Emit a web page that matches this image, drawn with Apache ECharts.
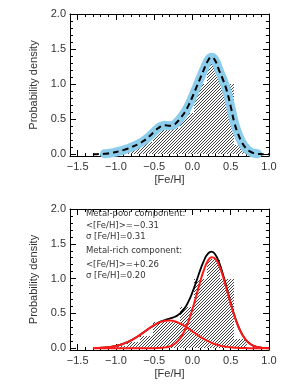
<!DOCTYPE html>
<html>
<head>
<meta charset="utf-8">
<script src="https://cdn.jsdelivr.net/npm/echarts@6/dist/echarts.min.js"></script>
<style>html,body{margin:0;padding:0;background:#fff}#c{width:285px;height:388px}</style>
</head>
<body>
<div id="c"></div>
<script>
// ---- data ----
const xGrid = [-1.3,-1.25,-1.2,-1.15,-1.1,-1.05,-1.0,-0.95,-0.9,-0.85,-0.8,-0.75,-0.7,-0.65,-0.6,-0.55,-0.5,-0.45,-0.4,-0.35,-0.3,-0.25,-0.2,-0.15,-0.1,-0.05,0.0,0.05,0.1,0.15,0.2,0.25,0.3,0.35,0.4,0.45,0.5,0.55,0.6,0.65,0.7,0.75,0.8,0.85,0.9,0.95,1.0];
const kde = [0.0,0.001,0.003,0.006,0.012,0.02,0.032,0.045,0.06,0.078,0.1,0.123,0.15,0.182,0.22,0.268,0.32,0.37,0.403,0.412,0.405,0.415,0.46,0.525,0.6,0.7,0.82,0.95,1.08,1.21,1.33,1.385,1.33,1.19,1.06,0.9,0.68,0.44,0.28,0.16,0.085,0.04,0.016,0.006,0.002,0.0,0.0];
const bandRange = [-1.15, 0.85];
const metalPoor = [0.0024,0.0040,0.0065,0.0102,0.0156,0.0232,0.0336,0.0475,0.0654,0.0877,0.1147,0.1461,0.1813,0.2192,0.2582,0.2964,0.3315,0.3612,0.3835,0.3967,0.3998,0.3926,0.3756,0.3501,0.3180,0.2814,0.2426,0.2038,0.1668,0.1330,0.1034,0.0782,0.0577,0.0415,0.0290,0.0198,0.0132,0.0085,0.0054,0.0033,0.0020,0.0012,0.0007,0.0004,0.0002,0.0001,0.0];
const metalRich = [0,0,0,0,0,0,0,0,0,0,0,0,0,0,0.0001,0.0003,0.001,0.0024,0.0057,0.0125,0.026,0.0507,0.093,0.1602,0.2593,0.3941,0.5628,0.7548,0.9512,1.1261,1.2524,1.3084,1.2841,1.1838,1.0253,0.8342,0.6377,0.4579,0.3088,0.1957,0.1165,0.0651,0.0342,0.0169,0.0078,0.0034,0.0014];
const totalFit = [0.0024,0.0040,0.0065,0.0102,0.0156,0.0232,0.0336,0.0475,0.0654,0.0877,0.1147,0.1461,0.1813,0.2192,0.2583,0.2967,0.3325,0.3636,0.3892,0.4092,0.4258,0.4433,0.4686,0.5103,0.5773,0.6755,0.8054,0.9586,1.1180,1.2591,1.3558,1.3866,1.3418,1.2253,1.0543,0.8540,0.6509,0.4664,0.3142,0.1990,0.1185,0.0663,0.0349,0.0173,0.0080,0.0035,0.0014];
const binLeft  = [-1.21,-1.035,-0.86,-0.685,-0.51,-0.335,-0.16,0.015,0.19,0.365,0.54];
const binRight = [-1.035,-0.86,-0.685,-0.51,-0.335,-0.16,0.015,0.19,0.365,0.54,0.715];
const binHeight = [0.01,0.03,0.09,0.18,0.37,0.37,0.59,1.0,1.28,1.0,0.13];
const xMajor = [-1.5,-1.0,-0.5,0.0,0.5,1.0];
const xMinor = [-1.6,-1.4,-1.3,-1.2,-1.1,-0.9,-0.8,-0.7,-0.6,-0.4,-0.3,-0.2,-0.1,0.1,0.2,0.3,0.4,0.6,0.7,0.8,0.9];
const yMajor = [0.0,0.5,1.0,1.5,2.0];
const yMinor = [0.1,0.2,0.3,0.4,0.6,0.7,0.8,0.9,1.1,1.2,1.3,1.4,1.6,1.7,1.8,1.9];
const annot = ['Metal-poor component:','<[Fe/H]>=\u22120.31','\u03c3 [Fe/H]=0.31','Metal-rich component:','<[Fe/H]>=+0.26','\u03c3 [Fe/H]=0.20'];

// ---- hatch pattern (crisp pixel diagonal, 3px pitch) ----
const pc = document.createElement('canvas');
pc.width = 3; pc.height = 3;
const g = pc.getContext('2d');
g.fillStyle = '#fff'; g.fillRect(0,0,3,3);
g.fillStyle = '#444';
for (let i = 0; i < 3; i++) g.fillRect(i, 2 - i, 1, 1);
const hatch = {type:'pattern', image: pc, repeat:'repeat'};

const TXT = '#333';
const FONT = '"Liberation Sans", Arial, sans-serif';
const fmt = v => (Math.abs(v) < 1e-9 ? 0 : v).toFixed(1).replace('-', '\u2212');

function xAxes(gi) {
  const base = {gridIndex: gi, type:'value', min:-1.6, max:1.0, splitLine:{show:false}};
  return [
    Object.assign({}, base, {position:'bottom', name:'[Fe/H]', nameLocation:'middle', nameGap:18,
      nameTextStyle:{color:TXT, fontSize:11, fontFamily:FONT},
      axisLine:{show:true, onZero:false, lineStyle:{color:'#000', width:1}},
      axisTick:{show:true, inside:true, length:6, customValues:xMajor, lineStyle:{color:'#000'}},
      axisLabel:{show:true, customValues:xMajor, formatter:fmt, color:TXT, fontSize:11, fontFamily:FONT, margin:5}}),
    Object.assign({}, base, {position:'bottom', axisLine:{show:false, onZero:false},
      axisTick:{show:true, inside:true, length:3, customValues:xMinor, lineStyle:{color:'#000'}},
      axisLabel:{show:false}}),
    Object.assign({}, base, {position:'top', axisLine:{show:true, onZero:false, lineStyle:{color:'#000', width:1}},
      axisTick:{show:true, inside:true, length:6, customValues:xMajor, lineStyle:{color:'#000'}},
      axisLabel:{show:false}}),
    Object.assign({}, base, {position:'top', axisLine:{show:false, onZero:false},
      axisTick:{show:true, inside:true, length:3, customValues:xMinor, lineStyle:{color:'#000'}},
      axisLabel:{show:false}})
  ];
}
function yAxes(gi) {
  const base = {gridIndex: gi, type:'value', min:-0.025, max:2.0, splitLine:{show:false}};
  return [
    Object.assign({}, base, {position:'left', name:'Probability density', nameLocation:'middle', nameGap:24, nameRotate:90,
      nameTextStyle:{color:TXT, fontSize:11, fontFamily:FONT},
      axisLine:{show:true, onZero:false, lineStyle:{color:'#000', width:1}},
      axisTick:{show:true, inside:true, length:6, customValues:yMajor, lineStyle:{color:'#000'}},
      axisLabel:{show:true, customValues:yMajor, formatter:fmt, color:TXT, fontSize:11, fontFamily:FONT, margin:4}}),
    Object.assign({}, base, {position:'left', axisLine:{show:false, onZero:false},
      axisTick:{show:true, inside:true, length:3, customValues:yMinor, lineStyle:{color:'#000'}},
      axisLabel:{show:false}}),
    Object.assign({}, base, {position:'right', axisLine:{show:true, onZero:false, lineStyle:{color:'#000', width:1}},
      axisTick:{show:true, inside:true, length:6, customValues:yMajor, lineStyle:{color:'#000'}},
      axisLabel:{show:false}}),
    Object.assign({}, base, {position:'right', axisLine:{show:false, onZero:false},
      axisTick:{show:true, inside:true, length:3, customValues:yMinor, lineStyle:{color:'#000'}},
      axisLabel:{show:false}})
  ];
}

const pairs = arr => xGrid.map((x, i) => [x, arr[i]]);
const bins = binLeft.map((l, i) => [l, binRight[i], binHeight[i]]);
const band = pairs(kde).filter(p => p[0] >= bandRange[0] - 1e-9 && p[0] <= bandRange[1] + 1e-9);

function histSeries(xi, yi) {
  return {
    type:'custom', xAxisIndex:xi, yAxisIndex:yi, silent:true, z:1, clip:false,
    data: bins,
    dimensions:['left','right','h'],
    encode:{x:['left','right'], y:'h'},
    renderItem: function(params, api) {
      const l = api.value(0), r = api.value(1), h = api.value(2);
      const p0 = api.coord([l, 0]);
      const p1 = api.coord([r, h]);
      return {type:'rect', shape:{x:Math.round(p0[0]), y:Math.round(p1[1]), width:Math.round(p1[0])-Math.round(p0[0]), height:Math.round(p0[1])-Math.round(p1[1])},
              style:{fill: hatch, stroke: null}};
    }
  };
}

const chart = echarts.init(document.getElementById('c'), null, {renderer:'canvas'});
chart.setOption({
  animation:false,
  backgroundColor:'#fff',
  grid:[
    {left:70, right:16, top:14, height:142},
    {left:70, right:16, top:209, height:141}
  ],
  xAxis: xAxes(0).concat(xAxes(1)),
  yAxis: yAxes(0).concat(yAxes(1)),
  series:[
    histSeries(0,0),
    {type:'line', xAxisIndex:0, yAxisIndex:0, data:band, smooth:true, symbol:'none', z:2,
     lineStyle:{color:'#8ccdec', width:9, cap:'round', join:'round'}},
    {type:'line', xAxisIndex:0, yAxisIndex:0, data:pairs(kde), smooth:true, symbol:'none', z:3,
     lineStyle:{color:'#000', width:2, type:[6,4]}},
    histSeries(4,4),
    {type:'line', xAxisIndex:4, yAxisIndex:4, data:pairs(totalFit), smooth:true, symbol:'none', z:2,
     lineStyle:{color:'#000', width:1.8}},
    {type:'line', xAxisIndex:4, yAxisIndex:4, data:pairs(metalPoor), smooth:true, symbol:'none', z:3,
     lineStyle:{color:'#ff1a1a', width:2}},
    {type:'line', xAxisIndex:4, yAxisIndex:4, data:pairs(metalRich), smooth:true, symbol:'none', z:3,
     lineStyle:{color:'#ff1a1a', width:2}}
  ],
  graphic: [214, 226, 236.5, 251, 265, 275.5].map((cy, i) => ({
    type:'text', x:86, y:cy, silent:true, z:10,
    style:{text: annot[i], fill:TXT, font:'8.5px "DejaVu Sans", sans-serif', verticalAlign:'middle', align:'left'}
  }))
});
</script>
</body>
</html>
